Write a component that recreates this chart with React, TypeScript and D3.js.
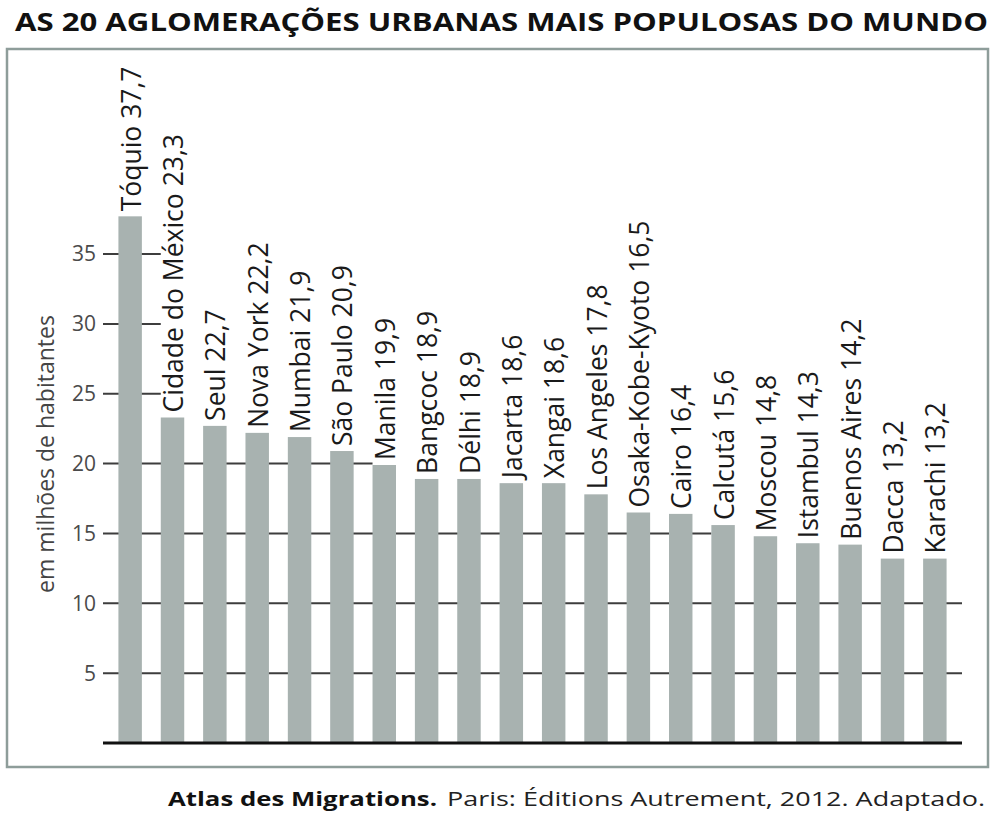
import React from "react";
import * as d3 from "d3";

const cities = [
  "Tóquio", "Cidade do México", "Seul", "Nova York", "Mumbai", "São Paulo",
  "Manila", "Bangcoc", "Délhi", "Jacarta", "Xangai", "Los Angeles",
  "Osaka-Kobe-Kyoto", "Cairo", "Calcutá", "Moscou", "Istambul",
  "Buenos Aires", "Dacca", "Karachi",
];
const populations = [
  37.7, 23.3, 22.7, 22.2, 21.9, 20.9, 19.9, 18.9, 18.9, 18.6, 18.6, 17.8,
  16.5, 16.4, 15.6, 14.8, 14.3, 14.2, 13.2, 13.2,
];
const yTicks = [5, 10, 15, 20, 25, 30, 35];
const titleText = "AS 20 AGLOMERAÇÕES URBANAS MAIS POPULOSAS DO MUNDO";
const yAxisTitle = "em milhões de habitantes";
const sourceBold = "Atlas des Migrations.";
const sourceRest = "Paris: Éditions Autrement, 2012. Adaptado.";

const W = 998;
const H = 818;
const FONT = "'Open Sans', 'Noto Sans', sans-serif";

export default function App() {
  const x0 = 103;
  const x1 = 962;
  const yBase = 743;
  const x = d3
    .scaleBand<string>()
    .domain(cities)
    .range([x0, x1])
    .paddingInner(0.446)
    .paddingOuter(0.364);
  const y = d3.scaleLinear().domain([0, 40]).range([yBase, yBase - 40 * 13.97]);
  const fmt = (v: number) => d3.format(".1f")(v).replace(".", ",");

  // gridline stops at the first bar whose label would cross it
  const gridEnd = (v: number) => {
    const i = populations.findIndex((p) => p < v + 0.7);
    return i >= 0 ? (x(cities[i]) as number) : x1;
  };

  return (
    <svg
      width={W}
      height={H}
      style={{ position: "absolute", left: 0, top: 0, background: "#fff" }}
      fontFamily={FONT}
    >
      <rect x={0} y={0} width={W} height={H} fill="#fff" />
      <text
        x={15}
        y={31}
        fontSize={25}
        fontWeight={700}
        fill="#111"
        textLength={973}
        lengthAdjust="spacingAndGlyphs"
      >
        {titleText}
      </text>
      <rect
        x={7}
        y={49}
        width={981}
        height={718}
        fill="none"
        stroke="#8e9d9a"
        strokeWidth={2.5}
      />
      {/* gridlines */}
      {yTicks.map((t) => (
        <line
          key={"g" + t}
          x1={x0}
          x2={gridEnd(t)}
          y1={y(t)}
          y2={y(t)}
          stroke="#3d3d3d"
          strokeWidth={2}
        />
      ))}
      {/* tick labels */}
      {yTicks.map((t) => (
        <text
          key={"t" + t}
          x={96}
          y={y(t)}
          dy="0.35em"
          textAnchor="end"
          fontSize={21}
          fill="#4a4a4a"
        >
          {t}
        </text>
      ))}
      <text
        transform={`translate(46, ${454}) rotate(-90)`}
        textAnchor="middle"
        dy="0.35em"
        fontSize={23}
        fill="#444"
      >
        {yAxisTitle}
      </text>
      {/* bars */}
      {cities.map((c, i) => (
        <rect
          key={"b" + c}
          x={x(c)}
          y={y(populations[i])}
          width={x.bandwidth()}
          height={yBase - y(populations[i])}
          fill="#a8b2b0"
        />
      ))}
      {/* baseline */}
      <line x1={x0} x2={x1} y1={yBase} y2={yBase} stroke="#111" strokeWidth={3} />
      {/* labels */}
      {cities.map((c, i) => {
        const cx = (x(c) as number) + x.bandwidth() / 2 + 1;
        const ty = y(populations[i]) - 5;
        return (
          <text
            key={"l" + c}
            transform={`translate(${cx}, ${ty}) rotate(-90)`}
            dy="0.36em"
            fontSize={26.5}
            fill="#1a1a1a"
          >
            {`${c} ${fmt(populations[i])}`}
          </text>
        );
      })}
      {/* source */}
      <text
        x={168}
        y={806}
        fontSize={20}
        fontWeight={700}
        fill="#111"
        textLength={269}
        lengthAdjust="spacingAndGlyphs"
      >
        {sourceBold}
      </text>
      <text
        x={447}
        y={806}
        fontSize={20}
        fill="#222"
        textLength={538}
        lengthAdjust="spacingAndGlyphs"
      >
        {sourceRest}
      </text>
    </svg>
  );
}
